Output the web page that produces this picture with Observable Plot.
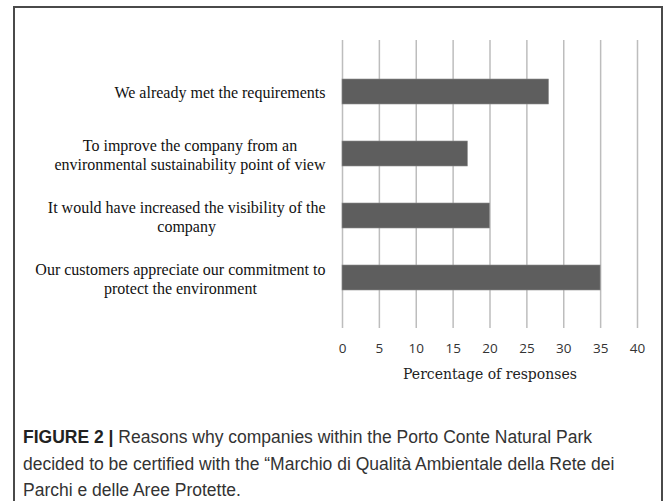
<!DOCTYPE html>
<html>
<head>
<meta charset="utf-8">
<script src="https://cdn.jsdelivr.net/npm/d3@7"></script>
<script src="https://cdn.jsdelivr.net/npm/@observablehq/plot@0.6"></script>
<style>
  html, body { margin: 0; padding: 0; background: #fff; }
  #page { position: relative; width: 669px; height: 501px; overflow: hidden; background: #fff; }
  #frame { position: absolute; left: 13px; top: 6px; width: 650px; height: 520px;
           border: 2px solid #4a4a4a; border-bottom: none; box-sizing: border-box; }
  #chart { position: absolute; left: 0; top: 0; }
  #caption { position: absolute; left: 23px; top: 424px; width: 636px; white-space: nowrap;
             font-family: "Liberation Sans", Arial, sans-serif; font-size: 17.5px;
             line-height: 26.5px; color: #333; }
  #caption b { color: #222; }
</style>
</head>
<body>
<div id="page">
  <div id="frame"></div>
  <div id="chart"></div>
  <div id="caption"><b>FIGURE 2 |</b> Reasons why companies within the Porto Conte Natural Park<br>decided to be certified with the “Marchio di Qualità Ambientale della Rete dei<br>Parchi e delle Aree Protette.</div>
</div>
<script>
// Data (top-to-bottom order)
const categories = [
  "We already met the requirements",
  "To improve the company from an\nenvironmental sustainability point of view",
  "It would have increased the visibility of the\ncompany",
  "Our customers appreciate our commitment to\nprotect the environment"
];
const values = [28, 17, 20, 35];
const xTicks = [0, 5, 10, 15, 20, 25, 30, 35, 40];
const xTitle = "Percentage of responses";

const data = categories.map((c, i) => ({category: c, value: values[i]}));

const labelFont = "16px 'Liberation Serif', 'Times New Roman', serif";
const ctx = document.createElement("canvas").getContext("2d");
ctx.font = labelFont;
const blockWidth = (s) => Math.max(...s.split("\n").map(l => ctx.measureText(l).width));

const labelMarks = data.map(d => Plot.text([d], {
  y: "category",
  text: "category",
  frameAnchor: "left",
  textAnchor: "middle",
  lineAnchor: "middle",
  lineHeight: 1.2,
  dx: -(17 + blockWidth(d.category) / 2),
  fill: "#111",
  fontFamily: "'Liberation Serif', 'Times New Roman', serif",
  fontSize: 16
}));

const chart = Plot.plot({
  width: 669,
  height: 400,
  marginLeft: 342,
  marginRight: 32,
  marginTop: 40,
  marginBottom: 72,
  style: {background: "transparent", fontFamily: "'Open Sans', sans-serif", fontSize: "13.5px", color: "#333"},
  x: {domain: [0, 40], ticks: xTicks, tickSize: 0, tickPadding: 15, label: null, tickFormat: d => String(d)},
  y: {domain: categories, padding: 0.6, axis: null},
  marks: [
    Plot.ruleX(xTicks, {stroke: "#bdbdbd", strokeWidth: 1.5}),
    Plot.barX(data, {x: "value", y: "category", fill: "#5e5e5e", stroke: "#8a8a8a", strokeWidth: 0.6}),
    ...labelMarks,
    Plot.text([xTitle], {
      frameAnchor: "bottom", dy: 50, text: d => d,
      fontFamily: "'DejaVu Serif', serif", fontSize: 14, fill: "#222"
    })
  ]
});
document.getElementById("chart").appendChild(chart);
</script>
</body>
</html>
